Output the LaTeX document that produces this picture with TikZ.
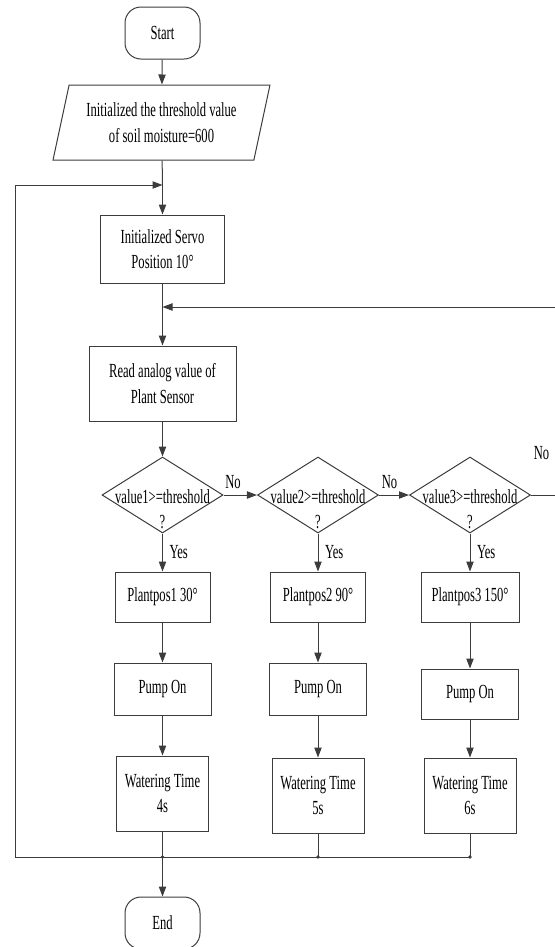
\documentclass[tikz,border=0pt]{standalone}
\usepackage{fontspec}
\setmainfont{Liberation Serif}[FakeStretch=0.63]
\usetikzlibrary{shapes.geometric,arrows.meta,calc}

\definecolor{lineclr}{RGB}{60,60,60}
\newcommand\flowfont{\fontsize{15}{19}\selectfont}

\tikzset{every picture/.style={line width=0.75pt}}
\tikzset{
  termnode/.style={draw=lineclr, rectangle, rounded corners=12pt, minimum width=56.25pt, minimum height=39pt, font=\flowfont},
  ionode/.style={draw=lineclr, trapezium, trapezium left angle=74, trapezium right angle=106, trapezium stretches=true, minimum width=162.75pt, minimum height=56.25pt, align=center, font=\flowfont},
  procnode/.style={draw=lineclr, rectangle, inner sep=1pt, align=center, font=\flowfont},
  decnode/.style={draw=lineclr, diamond, inner sep=0pt, minimum width=90.75pt, minimum height=57pt},
  txtnode/.style={align=center, inner sep=0pt, font=\flowfont},
  flowarrow/.style={draw=lineclr, -{Triangle[length=7.5pt,width=5.5pt]}},
  flowline/.style={draw=lineclr}
}

\begin{document}
\begin{tikzpicture}[x=0.75pt,y=0.75pt,yscale=-1,xscale=1]
\useasboundingbox (0,0) rectangle (555,947);

%Flowchart: Terminator
\node [termnode] (start) at (162.5,33) {Start};
%Flowchart: Data
\node [ionode] (init) at (161.5,122.5) {Initialized the threshold value\\of soil moisture=600};
%Flowchart: Process
\node [procnode, minimum width=93pt, minimum height=51pt] (servo) at (162.5,249) {Initialized Servo\\Position 10°};
%Flowchart: Process
\node [procnode, minimum width=110.25pt, minimum height=56.25pt] (read) at (162.5,383.5) {Read analog value of\\Plant Sensor};

%Flowchart: Decision
\node [decnode] (dec1) at (162.5,495) {};
\node [decnode] (dec2) at (318,495) {};
\node [decnode] (dec3) at (470,495) {};
% Text Node
\node [txtnode] (dec1txt) at ($(dec1.center)+(0,14)$) {value1>=threshold\\?};
\node [txtnode] (dec2txt) at ($(dec2.center)+(0,14)$) {value2>=threshold\\?};
\node [txtnode] (dec3txt) at ($(dec3.center)+(0,14)$) {value3>=threshold\\?};

%Flowchart: Process
\node [procnode, minimum width=71.25pt, minimum height=37.5pt] (pos1) at (162.5,597) {Plantpos1 30°};
\node [procnode, minimum width=71.25pt, minimum height=37.5pt] (pos2) at (318,597) {Plantpos2 90°};
\node [procnode, minimum width=73.5pt, minimum height=37.5pt] (pos3) at (470,597) {Plantpos3 150°};

\node [procnode, minimum width=72.75pt, minimum height=39pt] (pump1) at (162.5,689) {Pump On};
\node [procnode, minimum width=72.75pt, minimum height=39pt] (pump2) at (318,689) {Pump On};
\node [procnode, minimum width=72.75pt, minimum height=37.5pt] (pump3) at (470,694) {Pump On};

\node [procnode, minimum width=69pt, minimum height=56.25pt] (water1) at (162.5,793.5) {Watering Time\\4s};
\node [procnode, minimum width=69pt, minimum height=56.25pt] (water2) at (318,795.5) {Watering Time\\5s};
\node [procnode, minimum width=69pt, minimum height=56.25pt] (water3) at (470,795.5) {Watering Time\\6s};

%Flowchart: Terminator
\node [termnode] (end) at (162.5,923) {End};

% Junctions
\coordinate (join1) at (162.5,185);
\coordinate (join2) at (162.5,307);
\coordinate (merge1) at (162.5,857);
\coordinate (merge2) at (318,857);
\coordinate (merge3) at (470,857);
\coordinate (leftbot) at (15,857);
\coordinate (lefttop) at (15,185);
\coordinate (rightno) at (555,495);
\coordinate (rightback) at (555,307);

% Text Node
\node [txtnode, anchor=west] (yes1) at (169,552) {Yes};
\node [txtnode, anchor=west] (yes2) at (324.5,552) {Yes};
\node [txtnode, anchor=west] (yes3) at (476.5,552) {Yes};
\node [txtnode] (no1) at (233,482) {No};
\node [txtnode] (no2) at (389.5,482) {No};
\node [txtnode] (no3) at (541.5,453) {No};

% main column
\draw [flowarrow] (start) -- (init);
\draw [flowline] (init) -- (join1);
\draw [flowarrow] (join1) -- (servo);
\draw [flowline] (servo) -- (join2);
\draw [flowarrow] (join2) -- (read);
\draw [flowarrow] (read) -- (dec1);

% branches
\draw [flowarrow] (dec1) -- (dec2);
\draw [flowarrow] (dec2) -- (dec3);
\draw [flowline] (dec3) -- (rightno);
\draw [flowarrow] (rightback) -- (join2);

\draw [flowarrow] (dec1) -- (pos1);
\draw [flowarrow] (dec2) -- (pos2);
\draw [flowarrow] (dec3) -- (pos3);
\draw [flowarrow] (pos1) -- (pump1);
\draw [flowarrow] (pos2) -- (pump2);
\draw [flowarrow] (pos3) -- (pump3);
\draw [flowarrow] (pump1) -- (water1);
\draw [flowarrow] (pump2) -- (water2);
\draw [flowarrow] (pump3) -- (water3);

% merge and loop back
\draw [flowline] (water1) -- (merge1);
\draw [flowline] (water2) -- (merge2);
\draw [flowline] (water3) -- (merge3);
\draw [flowline] (merge3) -- (leftbot) -- (lefttop);
\draw [flowarrow] (lefttop) -- (join1);
\draw [flowarrow] (merge1) -- (end);
\fill [lineclr] (merge1) circle (1.8) (merge2) circle (1.8) (merge3) circle (1.8);

\end{tikzpicture}
\end{document}
